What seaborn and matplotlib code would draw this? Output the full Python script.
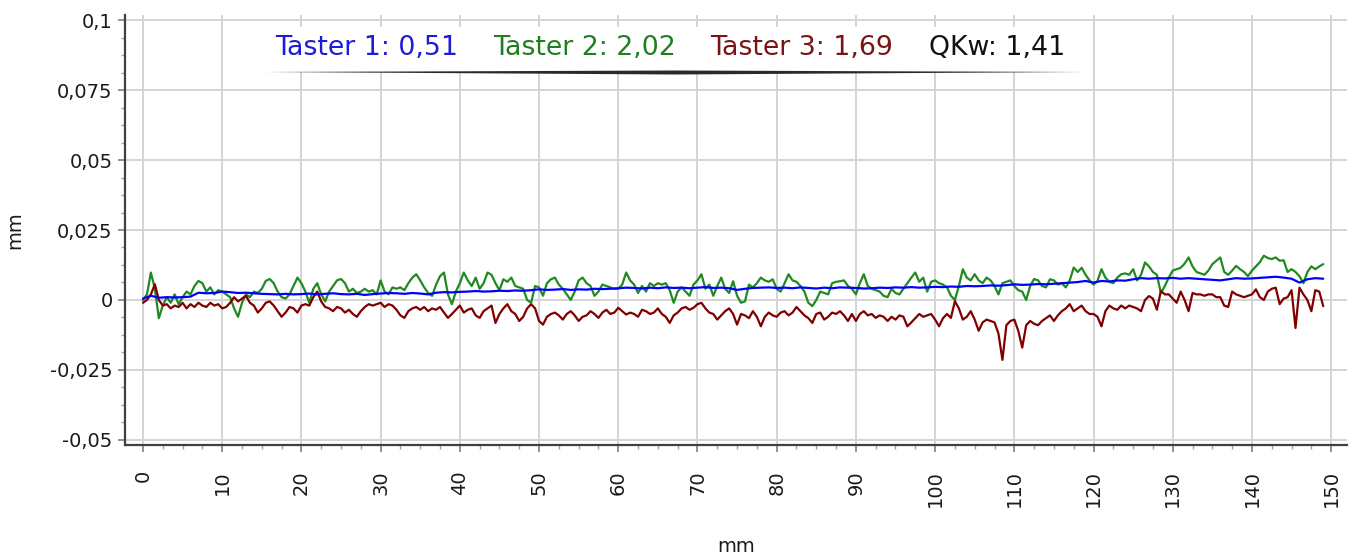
import numpy as np
import seaborn as sns
import matplotlib.pyplot as plt
from matplotlib.patches import Rectangle, Polygon
from matplotlib.ticker import AutoMinorLocator

# profile readings in micrometres, 0.5 mm sample step (taster 2 / taster 3)
taster2_um = [
    0, 2, 9.8, 4, -6.5, -2, 1, -1, 2, -1.5, 1, 3, 2, 5, 6.8, 6, 3, 4.5, 2, 3.5,
    3, 2, 1, -3, -6, -1, 2, 1, 3, 2.5, 4, 6.8, 7.5, 6, 3, 1, 0.5, 2, 5, 8,
    6, 3, -1, 4, 6, 2, -0.5, 3, 5, 7, 7.5, 6, 3, 4, 2.5, 3, 4, 3, 3.5, 2,
    7, 3, 2, 4.5, 4, 4.5, 3.5, 6, 8, 9.2, 7, 4.5, 2.5, 1.5, 5.5, 8.5, 9.8, 2, -1.5, 3,
    6, 9.8, 7, 5, 8, 4, 6, 9.8, 9, 6, 3.5, 7.4, 6.5, 8, 5, 4.5, 4, 0, -1, 5,
    4.5, 1.5, 6, 7.4, 8, 5.5, 4, 2, 0, 3, 7, 8, 6, 5, 1.5, 3, 5.5, 5, 4.5, 4,
    4, 5.5, 9.8, 7, 5.5, 2.5, 5, 3, 6, 5, 6, 5.5, 6, 3.5, -1, 3, 4.5, 3, 1.5, 5.5,
    7, 9.2, 4, 5.5, 1.5, 5, 8, 4, 2.5, 6.7, 1.5, -1, -0.5, 5.5, 4.5, 6, 8, 7, 6.5, 7.4,
    4, 3, 6, 9.2, 7, 6.5, 5, 3, -1, -2.2, 0, 3, 2.5, 2, 6, 6.5, 6.7, 7, 5, 4,
    2, 6, 9.2, 5, 4, 3.5, 3, 1.5, 1, 4, 2.5, 2, 4, 6, 8, 9.8, 6.5, 8, 3, 6.5,
    7, 6, 5.5, 4.5, 1.5, 0, 5, 11, 8, 7, 9.2, 7, 6, 8, 7, 5, 2, 6, 6.5, 7,
    5, 3.5, 3, 0, 5, 7.5, 7, 5, 4.5, 7.4, 7, 5.5, 6, 4.5, 7, 11.6, 10, 11.5, 9, 7,
    5.5, 6.8, 11, 8, 6.5, 6, 8, 9.2, 9.5, 9, 11, 7, 9, 13.4, 12, 10, 9, 2.5, 5, 8,
    10.5, 11, 11.5, 13, 15.2, 12, 10, 9.5, 9, 10.5, 12.8, 14, 15.2, 10, 9, 10.5, 12.2, 11, 10, 8.5,
    10.5, 12, 13.5, 15.8, 15, 14.6, 15.2, 14, 14.2, 10, 11, 10, 8.5, 6, 10, 12, 11, 12, 12.8,
]
taster3_um = [
    -1, 0, 2, 5.6, 0, -2, -1.5, -3, -2, -2.5, -1, -3, -1.5, -2.5, -1, -2, -2.5, -1, -2, -1.5,
    -3, -2.5, -1, 1, -0.5, 0.5, 1.5, -1, -2, -4.5, -3, -1, -0.5, -2, -4, -6, -4.5, -2.5, -3, -4.5,
    -2, -1.5, -2, 1, 3, -0.5, -2.5, -3, -4, -2.5, -3, -4.5, -3.5, -5, -6, -4, -2.5, -1.5, -2, -1.5,
    -1, -2.5, -1.5, -2, -3.5, -5.5, -6.4, -4, -3, -2.5, -3.5, -2.5, -4, -3, -3.5, -2.5, -4.5, -6.4, -5, -3.5,
    -2, -4.5, -3.5, -3, -5.5, -6.4, -4, -3, -2, -8.2, -5, -3, -1.5, -4, -5, -7.5, -6, -3, -1.5, -3,
    -7.5, -8.8, -6, -5, -4.5, -5.5, -7, -5, -4, -5.5, -7.5, -6, -5.5, -4, -5, -6.4, -4.5, -3.5, -5, -4.5,
    -2.8, -4, -5.2, -4.5, -5, -6, -3.5, -4, -5, -4.5, -3, -5, -6, -8.2, -5.5, -4.5, -3, -2.5, -3.5, -2.8,
    -1.5, -1, -3, -4.5, -5, -7, -5.5, -4, -3, -5, -8.8, -5, -5.5, -6.5, -4, -6, -9.4, -6, -4.5, -5.5,
    -6, -4.5, -4, -5.5, -4.5, -2.5, -4, -5.5, -6.5, -8.2, -5, -4.5, -7, -6, -4.5, -5, -4, -5.5, -7.5, -5,
    -7.5, -5, -4, -5.5, -5, -6.4, -5.5, -6, -7.5, -6, -7, -5.5, -6, -9.4, -8, -6.5, -5, -6, -5.5, -5,
    -7, -9.4, -6.5, -5, -6.4, -0.4, -3, -7, -6, -4, -7, -11, -8, -7, -7.5, -8, -12, -21.4, -9, -7.5,
    -7, -11, -17, -9, -7.5, -8.5, -9, -7.5, -6.5, -5.5, -7.5, -5.5, -4, -3, -1.5, -4, -3, -2, -4, -5,
    -5, -6, -9.4, -4, -2, -3, -3.5, -2, -3, -2, -2.5, -3, -4, 0, 1.4, 0.5, -3.5, 3.2, 2, 2,
    0.5, -1, 3, 0, -4, 2.5, 2, 2, 1.5, 2, 2, 1, 1, -2, -2.5, 3, 2, 1.5, 1, 1.5,
    2, 3.8, 1, 0, 3, 4, 4.4, -1.5, 0.5, 1, 3.5, -10, 4.4, 2, 0, -4, 3.5, 3, -2.2,
]
# taster 1, 1 mm sample step
taster1_um = [
    0.5, 1.5, 0.8, 1, 0.9, 1, 1.2, 2.6, 2.4, 2.5, 3, 2.8, 2.5, 2.6, 2.4, 2.2, 2.1, 2, 2.2, 2,
    2.1, 2.3, 2, 2.2, 2.4, 2.1, 2, 2.2, 1.8, 2.1, 2.3, 2.5, 2.4, 2.2, 2.5, 2.3, 2, 2.6, 2.8, 2.7,
    2.9, 3, 3.2, 3, 3.1, 3.3, 3.2, 3.4, 3.3, 3.5, 3.8, 3.6, 3.7, 3.9, 3.6, 3.8, 3.7, 4, 3.9, 4,
    4.2, 4.4, 4.3, 4.1, 4.4, 4.2, 4.5, 4.3, 4.4, 4.2, 4.4, 4.6, 4.3, 4.4, 4.2, 3.6, 4, 4.3, 4.4, 4.5,
    4.3, 4.4, 4.2, 4.5, 4.3, 4.1, 4.4, 4.2, 4.5, 4.4, 4.3, 4.1, 4.2, 4.4, 4.3, 4.5, 4.4, 4.6, 4.4, 4.5,
    4.7, 4.6, 4.8, 4.7, 5, 4.9, 5, 5.2, 5.1, 5.3, 5.6, 5.4, 5.5, 5.7, 5.6, 5.8, 6, 6.2, 6.4, 6.8,
    6.2, 6.8, 6.6, 7, 6.9, 7.4, 7.8, 7.6, 7.8, 7.7, 7.9, 7.6, 7.8, 7.6, 7.4, 7.2, 7, 7.4, 7.8, 7.6,
    7.7, 7.9, 8.1, 8.3, 8, 7.6, 6.2, 7.4, 7.8, 7.6,
]

legend_texts = ["Taster 1: 0,51", "Taster 2: 2,02", "Taster 3: 1,69", "QKw: 1,41"]
y_ticks = [-0.05, -0.025, 0, 0.025, 0.05, 0.075, 0.1]
y_tick_labels = ["-0,05", "-0,025", "0", "0,025", "0,05", "0,075", "0,1"]
x_ticks = list(range(0, 160, 10))

W, H = 1355, 557

if __name__ == "__main__":
    sns.set_style("white")
    plt.rcParams["font.family"] = ["DejaVu Sans"]

    x_fine = np.arange(len(taster2_um)) * 0.5
    x_coarse = np.arange(len(taster1_um)) * 1.0
    t1 = np.array(taster1_um) / 1000  # um -> mm
    t2 = np.array(taster2_um) / 1000
    t3 = np.array(taster3_um) / 1000

    fig = plt.figure(figsize=(W / 100, H / 100), dpi=100)
    ax = fig.add_axes([125 / W, 1 - 445 / H, (1347 - 125) / W, (445 - 15) / H])

    sns.lineplot(x=x_fine, y=t2, color="#208a20", lw=1.6, estimator=None, sort=False, ax=ax)
    sns.lineplot(x=x_fine, y=t3, color="#800000", lw=1.6, estimator=None, sort=False, ax=ax)
    sns.lineplot(x=x_coarse, y=t1, color="#0000ff", lw=1.6, estimator=None, sort=False, ax=ax)

    ax.set_xlim(-2.27, 152)
    ax.set_ylim(-0.0518, 0.1018)
    ax.set_xticks(x_ticks)
    ax.set_xticklabels([str(v) for v in x_ticks], rotation=90)
    ax.set_yticks(y_ticks)
    ax.set_yticklabels(y_tick_labels)
    ax.xaxis.set_minor_locator(AutoMinorLocator(4))
    ax.yaxis.set_minor_locator(AutoMinorLocator(4))

    ax.grid(True, which="major", color="#d4d4d4", lw=1.4)
    ax.set_axisbelow(True)
    for side in ["top", "right"]:
        ax.spines[side].set_visible(False)
    for side in ["left", "bottom"]:
        ax.spines[side].set_color("#404040")
        ax.spines[side].set_linewidth(1.6)

    ax.tick_params(axis="both", which="both", bottom=True, left=True, direction="out")
    ax.tick_params(axis="both", which="major", length=5, width=1.2, color="#808080",
                   labelsize=14, labelcolor="#1a1a1a")
    ax.tick_params(axis="both", which="minor", length=3, width=1.0, color="#a0a0a0")
    ax.tick_params(axis="x", which="major", pad=13)
    ax.tick_params(axis="y", which="major", pad=4)

    ax.set_xlabel("mm", fontsize=14, color="#1a1a1a")
    ax.xaxis.set_label_coords(0.5, (445 - 547) / 430)
    ax.xaxis.label.set_va("center")
    ax.set_ylabel("mm", fontsize=14, color="#1a1a1a")
    ax.yaxis.set_label_coords((15 - 125) / 1222, 0.5)
    ax.yaxis.label.set_va("center")

    # header box with the tracer values
    fig.patches.append(Rectangle((258 / W, 1 - 72 / H), (1090 - 258) / W, (72 - 27) / H,
                                 transform=fig.transFigure, facecolor="white",
                                 edgecolor="none", zorder=5))
    shadow = [(265, 72), (675, 70.5), (1085, 72), (675, 74.5)]
    fig.patches.append(Polygon([(px / W, 1 - py / H) for px, py in shadow],
                               transform=fig.transFigure, facecolor="#2a2a2a",
                               edgecolor="none", zorder=6))
    text_colors = ["#1c1cd6", "#1f7f1f", "#7a1414", "#111111"]
    text_x = [275, 493, 710, 929]
    for label, colr, px in zip(legend_texts, text_colors, text_x):
        fig.text(px / W, 1 - 48 / H, label, color=colr, fontsize=19.3,
                 ha="left", va="center", zorder=7)

    plt.savefig("out.png", dpi=100)
